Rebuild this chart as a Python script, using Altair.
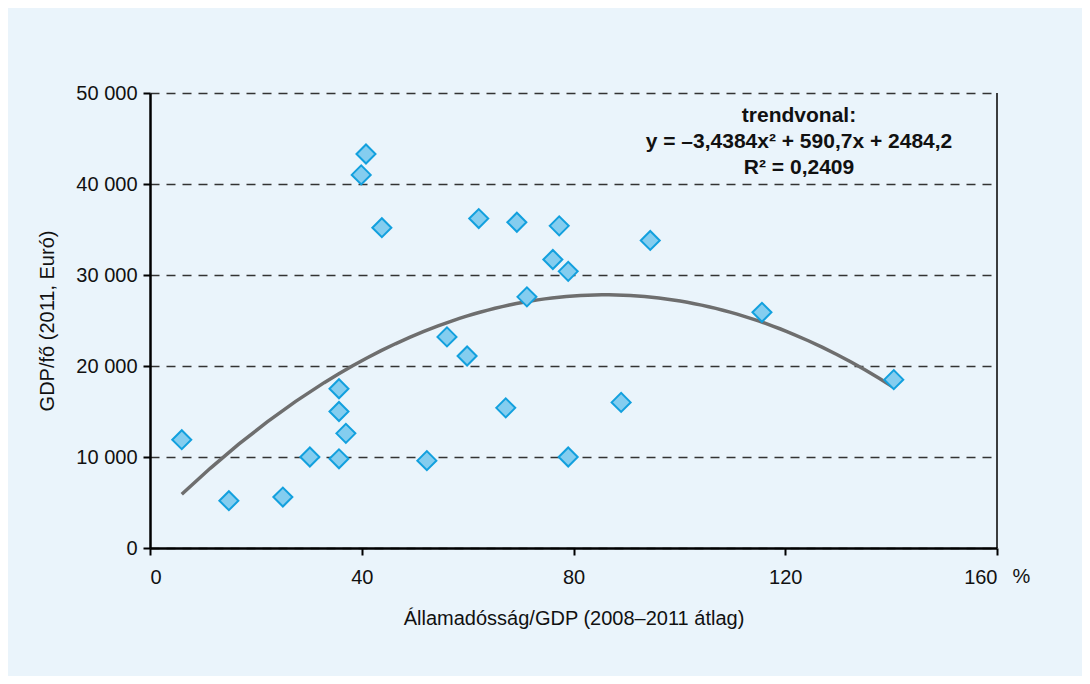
import altair as alt
import pandas as pd

# Államadósság/GDP (%) and GDP/fő (euró)
debt = [6.0, 14.9, 25.1, 30.2, 35.7, 35.7, 35.7, 37.0, 39.9, 40.8, 43.8, 52.3, 56.1,
        59.9, 62.1, 67.2, 69.3, 71.2, 76.1, 77.3, 79.0, 79.0, 89.0, 94.5, 115.6, 140.5]
gdp = [11900, 5200, 5600, 10000, 15000, 17500, 9800, 12600, 41000, 43300, 35200, 9600, 23200,
       21100, 36200, 15400, 35800, 27600, 31700, 35400, 30400, 10000, 16000, 33800, 25900, 18500]

annotation_lines = ["trendvonal:", "y = –3,4384x² + 590,7x + 2484,2", "R² = 0,2409"]
x_ticks = [0, 40, 80, 120, 160]
y_ticks = [0, 10000, 20000, 30000, 40000, 50000]

df = pd.DataFrame({"x": debt, "y": gdp})

FONT = "Liberation Sans"
BG = "#eaf4fb"

xscale = alt.Scale(domain=[0, 160], nice=False, zero=True)
yscale = alt.Scale(domain=[0, 50000], nice=False)

xaxis = alt.Axis(values=x_ticks, title="Államadósság/GDP (2008–2011 átlag)", grid=False,
                 domainColor="black", domainWidth=2.5, tickColor="black", tickWidth=2,
                 tickSize=7, labelPadding=12, labelFontSize=20, labelColor="#111",
                 titleFontSize=20, titleFontWeight="normal", titleColor="#111",
                 titlePadding=21, labelFont=FONT, titleFont=FONT)
yaxis = alt.Axis(values=y_ticks, title="GDP/fő (2011, Euró)", grid=True, gridDash=[9, 7],
                 gridColor="#333333", gridWidth=1.4,
                 labelExpr="replace(format(datum.value, ',d'), ',', ' ')",
                 domainColor="black", domainWidth=2.5, tickColor="black", tickWidth=2,
                 tickSize=7, labelPadding=6, labelFontSize=20, labelColor="#111",
                 titleFontSize=20, titleFontWeight="normal", titleColor="#111",
                 titlePadding=18, labelFont=FONT, titleFont=FONT)

base = alt.Chart(df)

trend = base.transform_regression("x", "y", method="poly", order=2).mark_line(
    color="#6e6e6e", strokeWidth=3.5
).encode(x=alt.X("x:Q", scale=xscale, axis=xaxis), y=alt.Y("y:Q", scale=yscale, axis=yaxis))

points = base.mark_point(shape="diamond", size=361, filled=True, fill="#84cdef",
                         stroke="#12a0de", strokeWidth=2, opacity=1).encode(
    x=alt.X("x:Q", scale=xscale), y=alt.Y("y:Q", scale=yscale))

right_border = alt.Chart(pd.DataFrame({"x": [160], "y": [0], "y2": [50000]})).mark_rule(
    color="black", strokeWidth=1.5).encode(
    x=alt.X("x:Q", scale=xscale), y=alt.Y("y:Q", scale=yscale), y2="y2:Q")

annot = alt.Chart(pd.DataFrame({"x": [122.6], "y": [48700]})).mark_text(
    font=FONT, fontSize=21, fontWeight="bold", color="#111", align="center",
    baseline="top", lineHeight=26).encode(
    x=alt.X("x:Q", scale=xscale), y=alt.Y("y:Q", scale=yscale),
    text=alt.value(annotation_lines))

pct = alt.Chart(pd.DataFrame({"x": [164.6], "y": [-3200]})).mark_text(
    font=FONT, fontSize=20, color="#111", align="center", baseline="middle", clip=False).encode(
    x=alt.X("x:Q", scale=xscale), y=alt.Y("y:Q", scale=yscale), text=alt.value("%"))

chart = alt.layer(right_border, trend, points, annot, pct).properties(
    width=847, height=455, background=BG,
    autosize=alt.AutoSizeParams(type="none"),
    padding={"left": 142, "top": 85, "right": 85, "bottom": 128},
).configure_view(stroke=None)

chart.save("out.html", embed_options={"renderer": "svg", "actions": False})
